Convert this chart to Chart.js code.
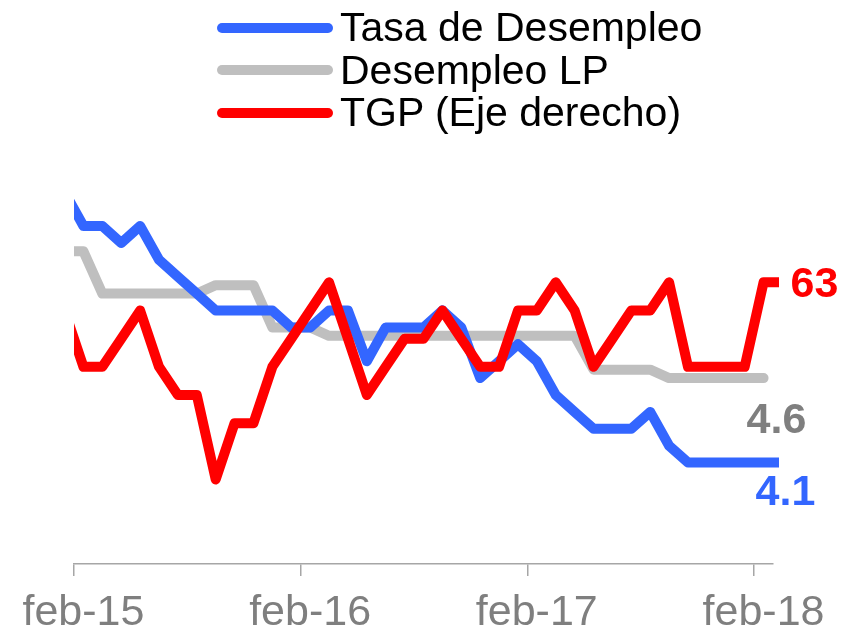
<!DOCTYPE html>
<html lang="es">
<head>
  <meta charset="UTF-8">
  <title>Desempleo y TGP</title>
  <script src="https://cdn.jsdelivr.net/npm/chart.js"></script>
  <style>
    body { margin: 0; background: #fff; }
    #wrap { position: relative; width: 845px; height: 632px; }
    #leyenda { position: absolute; left: 217px; top: 6.5px; font-family: "Liberation Sans", Arial, sans-serif; }
    .fila { display: flex; align-items: center; height: 42.5px; font-size: 41px; color: #000; white-space: nowrap; }
    .muestra { width: 116px; height: 10px; border-radius: 5px; margin-right: 7px; }
  </style>
</head>
<body>
  <div id="wrap">
    <canvas id="chart" width="845" height="632"></canvas>
    <div id="leyenda"></div>
  </div>

  <script>
    // meses de ene-15 a mar-18 (ene-15 queda recortado en el borde izquierdo)
    const meses = ['ene-15','feb-15','mar-15','abr-15','may-15','jun-15','jul-15','ago-15','sep-15','oct-15','nov-15','dic-15',
                   'ene-16','feb-16','mar-16','abr-16','may-16','jun-16','jul-16','ago-16','sep-16','oct-16','nov-16','dic-16',
                   'ene-17','feb-17','mar-17','abr-17','may-17','jun-17','jul-17','ago-17','sep-17','oct-17','nov-17','dic-17',
                   'ene-18','feb-18','mar-18'];

    const tasaDesempleo = [5.7, 5.5, 5.5, 5.4, 5.5, 5.3, 5.2, 5.1, 5.0, 5.0, 5.0, 5.0,
                           4.9, 4.9, 5.0, 5.0, 4.7, 4.9, 4.9, 4.9, 5.0, 4.9, 4.6, 4.7,
                           4.8, 4.7, 4.5, 4.4, 4.3, 4.3, 4.3, 4.4, 4.2, 4.1, 4.1, 4.1,
                           4.1, 4.1, 4.1];
    const desempleoLP = [5.35, 5.35, 5.1, 5.1, 5.1, 5.1, 5.1, 5.1, 5.15, 5.15, 5.15, 4.9,
                         4.9, 4.9, 4.85, 4.85, 4.85, 4.85, 4.85, 4.85, 4.85, 4.85, 4.85, 4.85,
                         4.85, 4.85, 4.85, 4.85, 4.65, 4.65, 4.65, 4.65, 4.6, 4.6, 4.6, 4.6,
                         4.6, 4.6];
    const tgp = [62.9, 62.7, 62.7, 62.8, 62.9, 62.7, 62.6, 62.6, 62.3, 62.5, 62.5, 62.7,
                 62.8, 62.9, 63.0, 62.8, 62.6, 62.7, 62.8, 62.8, 62.9, 62.8, 62.7, 62.7,
                 62.9, 62.9, 63.0, 62.9, 62.7, 62.8, 62.9, 62.9, 63.0, 62.7, 62.7, 62.7,
                 62.7, 63.0, 63.0];

    // marcas del eje x: limites entre meses, etiqueta en el mes de febrero
    const marcasX = [0.5, 12.5, 24.5, 36.5];

    const FUENTE = '"Liberation Sans", Arial, sans-serif';
    const AZUL = '#3366FF', GRIS = '#BFBFBF', ROJO = '#FF0000';

    const puntos = arr => arr.map((v, i) => ({ x: i, y: v }));

    // etiquetas del ultimo valor de cada serie
    const etiquetasFinales = {
      id: 'etiquetasFinales',
      afterDatasetsDraw(chart) {
        const { ctx, scales } = chart;
        const items = [
          { serie: tgp, eje: scales.y1, n: 37, texto: '63', color: ROJO, dx: 27, dy: 15 },
          { serie: desempleoLP, eje: scales.y, n: 37, texto: '4.6', color: '#7F7F7F', dx: -17, dy: 55 },
          { serie: tasaDesempleo, eje: scales.y, n: 37, texto: '4.1', color: AZUL, dx: -8, dy: 42 }
        ];
        ctx.save();
        ctx.font = 'bold 43px ' + FUENTE;
        ctx.textAlign = 'left';
        ctx.textBaseline = 'alphabetic';
        items.forEach(it => {
          const px = scales.x.getPixelForValue(it.n);
          const py = it.eje.getPixelForValue(it.serie[it.n]);
          ctx.fillStyle = it.color;
          ctx.fillText(it.texto, px + it.dx, py + it.dy);
        });
        ctx.restore();
      }
    };

    const comun = {
      pointRadius: 0,
      borderWidth: 10,
      borderJoinStyle: 'round',
      tension: 0,
      clip: { left: 0, top: false, right: 6, bottom: false }
    };

    const chart = new Chart(document.getElementById('chart').getContext('2d'), {
      type: 'line',
      data: {
        datasets: [
          { ...comun, label: 'Tasa de Desempleo', data: puntos(tasaDesempleo), borderColor: AZUL, yAxisID: 'y', borderCapStyle: 'butt', order: 2 },
          { ...comun, label: 'Desempleo LP', data: puntos(desempleoLP), borderColor: GRIS, yAxisID: 'y', borderCapStyle: 'round', order: 3 },
          { ...comun, label: 'TGP (Eje derecho)', data: puntos(tgp), borderColor: ROJO, yAxisID: 'y1', borderCapStyle: 'butt', order: 1 }
        ]
      },
      options: {
        responsive: false,
        animation: false,
        layout: { padding: { left: 74, right: 72, top: 141.5, bottom: 0 } },
        plugins: {
          legend: { display: false },
          tooltip: { enabled: false }
        },
        scales: {
          x: {
            type: 'linear',
            min: 0.5,
            max: 37.5,
            afterBuildTicks: s => { s.ticks = marcasX.map(v => ({ value: v })); },
            afterFit: s => { s.height = 68; },
            grid: { drawOnChartArea: false, drawTicks: true, tickLength: 12, color: '#A6A6A6', lineWidth: 1.5 },
            border: { display: true, color: '#A6A6A6', width: 1.5 },
            ticks: {
              autoSkip: false,
              maxRotation: 0,
              labelOffset: 9.4,
              padding: 11,
              color: '#7F7F7F',
              font: { family: FUENTE, size: 43 },
              callback: v => meses[Math.round(v + 0.5)]
            }
          },
          y: { display: false, min: 3.5, max: 6.0 },
          y1: { display: false, position: 'right', min: 62.0, max: 63.5 }
        }
      },
      plugins: [etiquetasFinales]
    });

    // leyenda en HTML
    const leyenda = document.getElementById('leyenda');
    chart.data.datasets.forEach(ds => {
      const fila = document.createElement('div');
      fila.className = 'fila';
      const muestra = document.createElement('span');
      muestra.className = 'muestra';
      muestra.style.background = ds.borderColor;
      const texto = document.createElement('span');
      texto.textContent = ds.label;
      fila.appendChild(muestra);
      fila.appendChild(texto);
      leyenda.appendChild(fila);
    });
  </script>
</body>
</html>
